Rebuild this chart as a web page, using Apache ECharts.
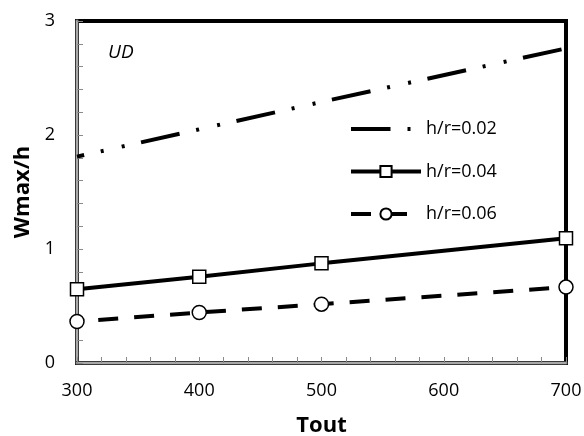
<!DOCTYPE html>
<html>
<head>
<meta charset="utf-8">
<script src="https://cdn.jsdelivr.net/npm/echarts@6/dist/echarts.min.js"></script>
<style>
  html, body { margin: 0; padding: 0; background: #fff; }
  #main { width: 584px; height: 436px; }
</style>
</head>
<body>
<div id="main"></div>
<script>
// 数据
var tout = [300, 400, 500, 700];
var hr002 = [1.81, 2.05, 2.29, 2.76];
var hr004 = [0.646, 0.757, 0.874, 1.094];
var hr006 = [0.364, 0.443, 0.516, 0.666];
var names = ['h/r=0.02', 'h/r=0.04', 'h/r=0.06'];
var xTicks = [300, 400, 500, 600, 700];
var yTicks = [0, 1, 2, 3];

function pairs(ys) {
  return tout.map(function(x, i) { return [x, ys[i]]; });
}

var FONT = '"Open Sans", "DejaVu Sans", sans-serif';
var myChart = echarts.init(document.getElementById('main'));

// 坐标轴公共样式
function xAxisBase(extra) {
  return Object.assign({
    type: 'value',
    min: xTicks[0],
    max: xTicks[xTicks.length - 1],
    interval: 100,
    position: 'bottom',
    splitLine: { show: false }
  }, extra);
}
function yAxisBase(extra) {
  return Object.assign({
    type: 'value',
    min: yTicks[0],
    max: yTicks[yTicks.length - 1],
    interval: 1,
    position: 'left',
    splitLine: { show: false }
  }, extra);
}

var option = {
  backgroundColor: '#fff',
  animation: false,
  textStyle: { fontFamily: FONT },
  grid: {
    left: 77, right: 18, top: 21, bottom: 73,
    outerBoundsMode: 'none',
    containLabel: false,
    show: true,
    borderColor: '#000',
    borderWidth: 4,
    backgroundColor: 'transparent'
  },
  legend: {
    orient: 'vertical',
    left: 349,
    top: 120,
    padding: 0,
    itemWidth: 70,
    itemHeight: 14,
    itemGap: 24.5,
    lineStyle: { width: 4 },
    textStyle: { fontSize: 18, color: '#000', fontFamily: FONT },
    data: [
      { name: names[0], lineStyle: { dashOffset: 0, width: 4 }, itemStyle: { color: 'rgba(0,0,0,0)', borderWidth: 0, opacity: 0 } },
      { name: names[1] },
      { name: names[2], lineStyle: { dashOffset: 0, width: 4 } }
    ]
  },
  graphic: [{
    type: 'text',
    left: 108,
    top: 43,
    style: {
      text: 'UD',
      font: 'italic 19px ' + FONT,
      fill: '#000'
    }
  }],
  xAxis: [
    xAxisBase({
      name: 'Tout',
      nameLocation: 'middle',
      nameGap: 52,
      nameTextStyle: { fontSize: 22, fontWeight: 'bold', color: '#000', fontFamily: FONT },
      axisLine: { show: true, lineStyle: { color: '#3a3a3a', width: 4 } },
      axisTick: { show: true, inside: true, length: 6, lineStyle: { color: '#8a8a8a', width: 1 } },
      minorTick: { show: true, splitNumber: 5, length: 6, lineStyle: { color: '#8a8a8a', width: 1 } },
      axisLabel: { fontSize: 18, color: '#000', margin: 19, fontFamily: FONT }
    }),
    xAxisBase({
      axisLine: { show: true, lineStyle: { color: '#a8a8a8', width: 2 } },
      axisTick: { show: false },
      axisLabel: { show: false }
    })
  ],
  yAxis: [
    yAxisBase({
      name: 'Wmax/h',
      nameLocation: 'middle',
      nameGap: 41,
      nameTextStyle: { fontSize: 22, fontWeight: 'bold', color: '#000', fontFamily: FONT },
      axisLine: { show: true, lineStyle: { color: '#3a3a3a', width: 4 } },
      axisTick: { show: true, inside: true, length: 6, lineStyle: { color: '#8a8a8a', width: 1 } },
      minorTick: { show: true, splitNumber: 5, length: 6, lineStyle: { color: '#8a8a8a', width: 1 } },
      axisLabel: { fontSize: 18, color: '#000', margin: 22, fontFamily: FONT }
    }),
    yAxisBase({
      axisLine: { show: true, lineStyle: { color: '#a8a8a8', width: 2 } },
      axisTick: { show: false },
      axisLabel: { show: false }
    })
  ],
  series: [
    {
      name: names[0],
      type: 'line',
      data: pairs(hr002),
      symbol: 'none',
      clip: false,
      lineStyle: { color: '#000', width: 4, type: [39.5, 17, 3, 18.5, 3, 16.8], dashOffset: 32.2, cap: 'butt' },
      itemStyle: { color: '#000' }
    },
    {
      name: names[1],
      type: 'line',
      data: pairs(hr004),
      symbol: 'rect',
      symbolSize: 13,
      clip: false,
      lineStyle: { color: '#000', width: 4 },
      itemStyle: { color: '#fff', borderColor: '#000', borderWidth: 1.5 }
    },
    {
      name: names[2],
      type: 'line',
      data: pairs(hr006),
      symbol: 'circle',
      symbolSize: 14,
      clip: false,
      lineStyle: { color: '#000', width: 4, type: [20, 16], dashOffset: 14.7, cap: 'butt' },
      itemStyle: { color: '#fff', borderColor: '#000', borderWidth: 1.5 }
    }
  ]
};

myChart.setOption(option);
</script>
</body>
</html>
